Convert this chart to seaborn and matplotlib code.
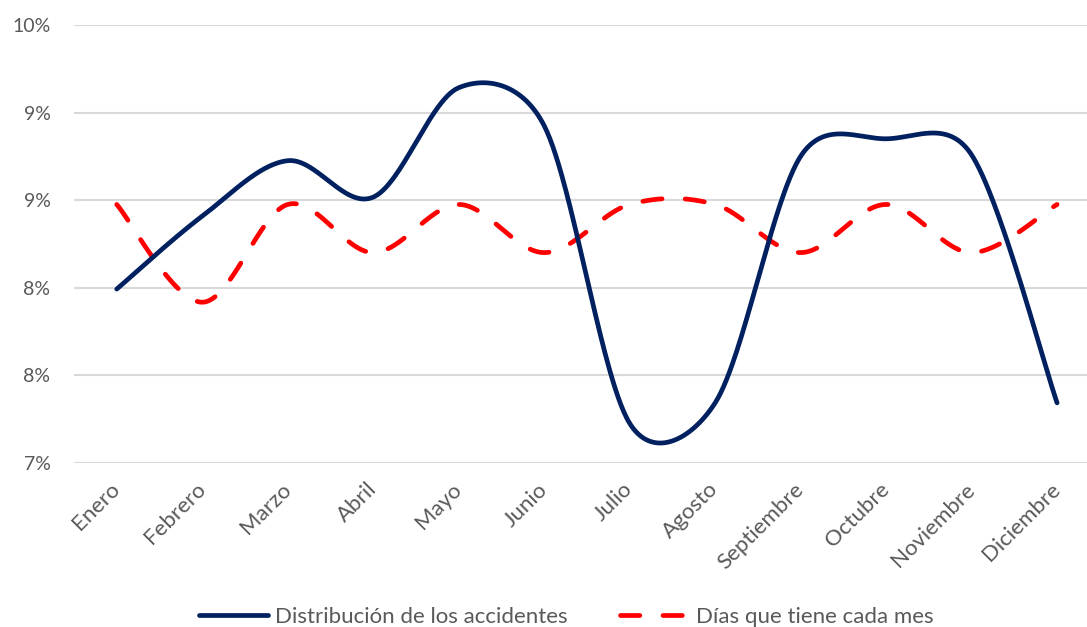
import numpy as np
import pandas as pd
import matplotlib
matplotlib.use("Agg")
import matplotlib.pyplot as plt
import seaborn as sns

# ---- data ----
months = ["Enero", "Febrero", "Marzo", "Abril", "Mayo", "Junio", "Julio",
          "Agosto", "Septiembre", "Octubre", "Noviembre", "Diciembre"]
accidentes = [8.19, 8.69, 9.07, 8.82, 9.57, 9.31, 7.27, 7.41, 9.10, 9.22, 9.11, 7.41]
dias_mes = [8.77, 8.10, 8.77, 8.44, 8.77, 8.44, 8.77, 8.77, 8.44, 8.77, 8.44, 8.77]
y_ticks = [7.0, 7.6, 8.2, 8.8, 9.4, 10.0]
y_tick_labels = ["7%", "8%", "8%", "9%", "9%", "10%"]
series_names = ["Distribución de los accidentes", "Días que tiene cada mes"]

W, H = 1087, 627
left_px, right_px, top_px, bottom_px = 74, 1087, 25, 462.7
n_cat_span = 11.85
px_per_x = (right_px - left_px) / n_cat_span
px_per_y = (bottom_px - top_px) / (y_ticks[-1] - y_ticks[0])


def smooth(values, n=60):
    """Excel-like smoothed line: Bezier segments, control arms = (P[i+1]-P[i-1])/6
    capped at half the segment length (computed in screen space)."""
    p = np.column_stack([np.arange(len(values), dtype=float) * px_per_x,
                         np.asarray(values, float) * px_per_y])
    ext = np.vstack([p[0], p, p[-1]])
    t = np.linspace(0, 1, n)[:, None]
    out = []
    for i in range(len(p) - 1):
        P0, P1, P2, P3 = ext[i], ext[i + 1], ext[i + 2], ext[i + 3]
        d12 = np.linalg.norm(P2 - P1)
        a1 = (P2 - P0) / 6.0
        a2 = (P3 - P1) / 6.0
        for a in (a1, a2):
            L = np.linalg.norm(a)
            if L > d12 / 2:
                a *= (d12 / 2) / L
        c1 = P1 + a1
        c2 = P2 - a2
        seg = ((1 - t) ** 3) * P1 + 3 * ((1 - t) ** 2) * t * c1 + 3 * (1 - t) * t ** 2 * c2 + t ** 3 * P2
        out.append(seg if i == 0 else seg[1:])
    out = np.vstack(out)
    return out[:, 0] / px_per_x, out[:, 1] / px_per_y


sns.set_theme(style="white")
plt.rcParams["font.family"] = ["Lato", "DejaVu Sans"]

fig = plt.figure(figsize=(W / 100, H / 100), dpi=100)
ax = fig.add_axes([left_px / W, 1 - bottom_px / H, (right_px - left_px) / W, (bottom_px - top_px) / H])

blue = "#002060"
red = "#FF0000"
lw = 3.4

xa, ya = smooth(accidentes)
xd, yd = smooth(dias_mes)
df_a = pd.DataFrame({"x": xa, "y": ya})
df_d = pd.DataFrame({"x": xd, "y": yd})

sns.lineplot(data=df_a, x="x", y="y", ax=ax, color=blue, linewidth=lw,
             estimator=None, sort=False, solid_capstyle="round",
             label=series_names[0], zorder=3)
sns.lineplot(data=df_d, x="x", y="y", ax=ax, color=red, linewidth=lw,
             estimator=None, sort=False, linestyle=(0, (4.1, 4.9)),
             dash_capstyle="round", label=series_names[1], zorder=2)

ax.set_xlim(-0.5, -0.5 + n_cat_span)
ax.set_ylim(y_ticks[0], y_ticks[-1])
ax.set_yticks(y_ticks)
ax.set_yticklabels(y_tick_labels)
ax.set_xticks(range(len(months)))
ax.set_xticklabels(months, rotation=45, ha="right", va="center", rotation_mode="anchor")
ax.set_xlabel("")
ax.set_ylabel("")

for s in ax.spines.values():
    s.set_visible(False)
ax.grid(axis="y", color="#D9D9D9", linewidth=1.5, zorder=0)
ax.grid(axis="x", visible=False)
ax.set_axisbelow(True)
ax.tick_params(axis="both", length=0, labelcolor="#595959")
ax.tick_params(axis="y", pad=17, labelsize=14)
ax.tick_params(axis="x", pad=17, labelsize=16)
ax.patch.set_alpha(0)

handles, labels = ax.get_legend_handles_labels()
ax.get_legend().remove()
fig.legend(handles, labels, loc="center", bbox_to_anchor=(0.521, 0.016), ncol=2,
           frameon=False, fontsize=16, handlelength=3.1, columnspacing=2.4,
           handletextpad=0.3, labelcolor="#595959")

fig.savefig("out.png", dpi=100)
